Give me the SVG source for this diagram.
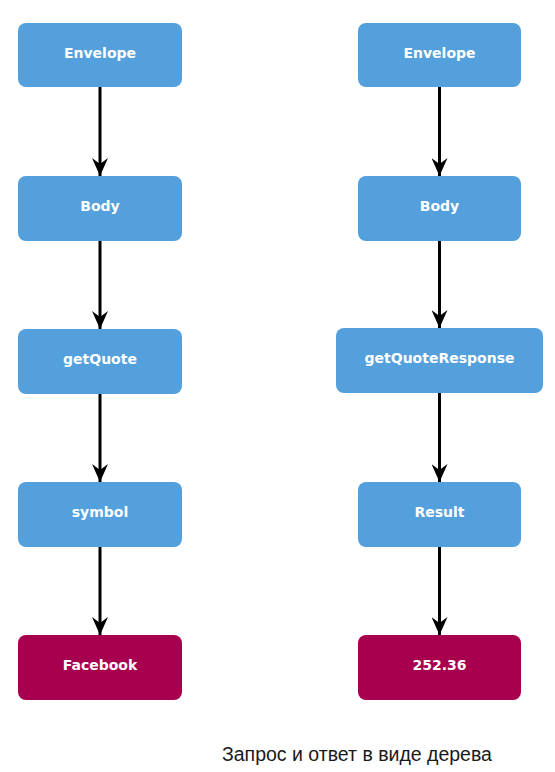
<svg xmlns="http://www.w3.org/2000/svg" width="555" height="772" viewBox="0 0 555 772">
<style>
.b{fill:#54a0dc}
.v{fill:#a7004f}
.t{font-family:"DejaVu Sans",Verdana,sans-serif;font-weight:bold;font-size:14px;fill:#fff;text-anchor:middle;dominant-baseline:central}
.c{stroke:#000;stroke-width:3;fill:none}
.cap{font-family:"Liberation Sans",Arial,sans-serif;font-size:19.5px;fill:#1a1a1a}
</style>
<defs>
<marker id="arr" viewBox="0 0 16 18" refX="8" refY="18" markerWidth="16" markerHeight="18" markerUnits="userSpaceOnUse" orient="0">
<path d="M0,0 L8,6 L16,0 L8,18 Z" fill="#000"/>
</marker>
</defs>
<g id="connectors">
<line class="c" x1="100" y1="87" x2="100" y2="176" marker-end="url(#arr)"/>
<line class="c" x1="100" y1="241" x2="100" y2="329" marker-end="url(#arr)"/>
<line class="c" x1="100" y1="394" x2="100" y2="482" marker-end="url(#arr)"/>
<line class="c" x1="100" y1="547" x2="100" y2="635" marker-end="url(#arr)"/>
<line class="c" x1="439.5" y1="87" x2="439.5" y2="176" marker-end="url(#arr)"/>
<line class="c" x1="439.5" y1="241" x2="439.5" y2="328" marker-end="url(#arr)"/>
<line class="c" x1="439.5" y1="393" x2="439.5" y2="482" marker-end="url(#arr)"/>
<line class="c" x1="439.5" y1="547" x2="439.5" y2="635" marker-end="url(#arr)"/>
</g>
<g id="l-envelope"><rect class="b" x="18" y="23" width="164" height="64" rx="8"/><text class="t" x="100" y="53">Envelope</text></g>
<g id="l-body"><rect class="b" x="18" y="176" width="164" height="65" rx="8"/><text class="t" x="100" y="206">Body</text></g>
<g id="l-getquote"><rect class="b" x="18" y="329" width="164" height="65" rx="8"/><text class="t" x="100" y="359">getQuote</text></g>
<g id="l-symbol"><rect class="b" x="18" y="482" width="164" height="65" rx="8"/><text class="t" x="100" y="512">symbol</text></g>
<g id="l-facebook"><rect class="v" x="18" y="635" width="164" height="65" rx="8"/><text class="t" x="100" y="665">Facebook</text></g>
<g id="r-envelope"><rect class="b" x="358" y="23" width="163" height="64" rx="8"/><text class="t" x="439.5" y="53">Envelope</text></g>
<g id="r-body"><rect class="b" x="358" y="176" width="163" height="65" rx="8"/><text class="t" x="439.5" y="206">Body</text></g>
<g id="r-getquoteresponse"><rect class="b" x="336" y="328" width="207" height="65" rx="8"/><text class="t" x="439.5" y="358">getQuoteResponse</text></g>
<g id="r-result"><rect class="b" x="358" y="482" width="163" height="65" rx="8"/><text class="t" x="439.5" y="512">Result</text></g>
<g id="r-value"><rect class="v" x="358" y="635" width="163" height="65" rx="8"/><text class="t" x="439.5" y="665">252.36</text></g>
<text class="cap" x="222" y="761">Запрос и ответ в виде дерева</text>
</svg>
